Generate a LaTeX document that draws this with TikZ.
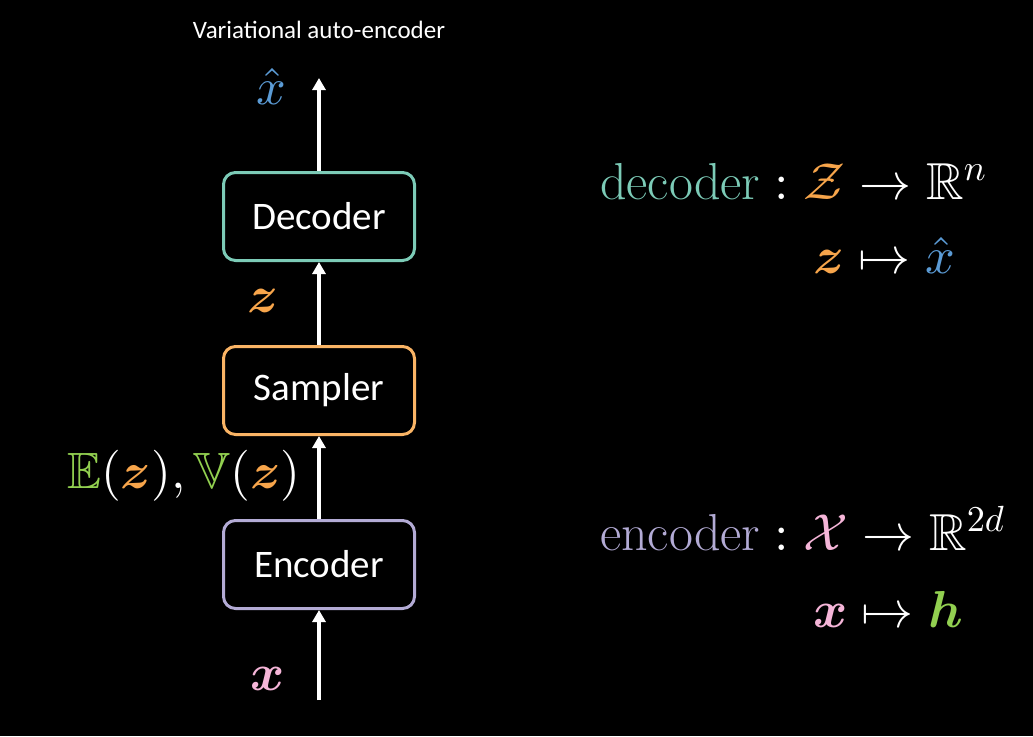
\documentclass[tikz,border=0pt]{standalone}
\usepackage{amsmath,amssymb,bm}
\usepackage{fontspec}
\newfontfamily\calibri{Carlito}
\usetikzlibrary{arrows.meta,positioning}
\DeclareFontShape{OML}{cmm}{m}{it}{<-> cmmi10}{}
\DeclareFontShape{OML}{cmm}{b}{it}{<-> cmmib10}{}
\DeclareFontShape{OMS}{cmsy}{m}{n}{<-> cmsy10}{}
\DeclareFontShape{OMS}{cmsy}{b}{n}{<-> cmbsy10}{}
\DeclareFontShape{OT1}{cmr}{m}{n}{<-> cmr10}{}
\DeclareFontShape{OT1}{cmr}{bx}{n}{<-> cmbx10}{}
\DeclareFontShape{OMX}{cmex}{m}{n}{<-> cmex10}{}
\DeclareFontFamily{U}{msb}{}
\DeclareFontShape{U}{msb}{m}{n}{<-> msbm10}{}
\definecolor{deccol}{HTML}{7CCBB7}
\definecolor{smpcol}{HTML}{F7A54B}
\definecolor{smpline}{HTML}{FAB465}
\definecolor{enccol}{HTML}{B3ABD5}
\definecolor{xcol}{HTML}{F5B5D8}
\definecolor{hcol}{HTML}{92D050}
\definecolor{xhatcol}{HTML}{5B9BD5}
\tikzset{box/.style={rounded corners=12pt,line width=3pt,fill=black,minimum width=191pt,minimum height=88pt,font=\calibri\fontsize{39}{46}\selectfont}, arr/.style={-{Triangle[length=12pt,width=13pt]},line width=4pt,draw=white}, lbl/.style={inner sep=0pt,font=\fontsize{52}{62}\selectfont}}
\begin{document}
\begin{tikzpicture}[x=1pt,y=-1pt,node distance=83pt,text=white]
\fill[black](0,0)rectangle(1033,736);
\node[font=\calibri\fontsize{25}{30}\selectfont](title) at (319,30){Variational auto-encoder};
\node[box,draw=deccol](dec) at (319,216.5){Decoder};\node[box,draw=smpline,below=of dec](smp){Sampler};\node[box,draw=enccol,below=of smp](enc){Encoder};
\coordinate(xin) at (319,700);\coordinate(xout) at (319,78);
\foreach \a/\b in {xin/enc,enc/smp,smp/dec,dec/xout}{\draw[arr](\a)--(\b);}
% labels on the arrows
\node[lbl](xhatlbl) at (271,86){$\color{xhatcol}\hat{x}$};
\node[lbl](zlbl) at (263,301){$\color{smpcol}\bm{z}$};
\node[lbl,anchor=base east,font=\fontsize{51}{61}\selectfont](ezlbl) at (301,488){$\color{hcol}\mathbb{E}\color{white}(\color{smpcol}\bm{z}\color{white}),\color{hcol}\mathbb{V}\color{white}(\color{smpcol}\bm{z}\color{white})$};
\node[lbl](xlbl) at (268,679){$\color{xcol}\bm{x}$};
% maps
\node[lbl,anchor=base west](decfun) at (600,199){$\textcolor{deccol}{\text{decoder}}:\textcolor{smpcol}{\mathcal{Z}}\to\mathbb{R}^n$};
\node[lbl,anchor=base west](decmap) at (813,273){$\textcolor{smpcol}{\bm{z}}\mapsto\textcolor{xhatcol}{\hat{x}}$};
\node[lbl,anchor=base west](encfun) at (600,550){$\textcolor{enccol}{\text{encoder}}:\textcolor{xcol}{\mathcal{X}}\to\mathbb{R}^{2d}$};
\node[lbl,anchor=base west](encmap) at (813,627){$\textcolor{xcol}{\bm{x}}\mapsto\textcolor{hcol}{\bm{h}}$};
\end{tikzpicture}
\end{document}
